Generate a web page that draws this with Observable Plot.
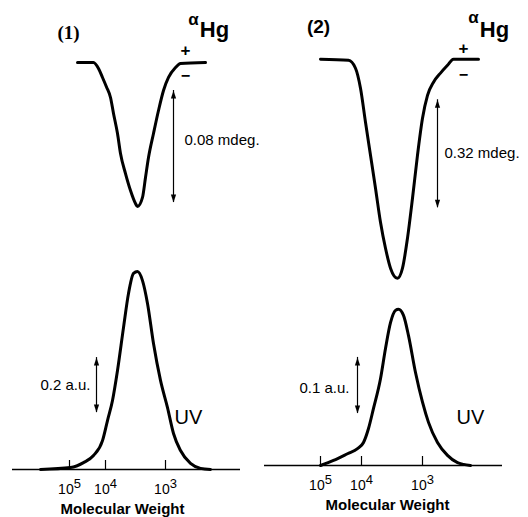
<!DOCTYPE html>
<html><head><meta charset="utf-8">
<script src="https://cdn.jsdelivr.net/npm/d3@7"></script>
<script src="https://cdn.jsdelivr.net/npm/@observablehq/plot@0.6"></script>
<style>
html,body{margin:0;padding:0;background:#fff;}
#chart{position:relative;width:528px;height:517px;overflow:hidden;font-family:"Liberation Sans",Arial,sans-serif;}
#chart > svg{position:absolute;}
</style></head><body><div id="chart"></div>
<script>
// ---- data (x = elution position, arbitrary units; rotation in mdeg; UV in a.u.) ----
const tickLabels = ["10^5", "10^4", "10^3"];
const p1TickPos = [2.85, 4.65, 7.65];
const p2TickPos = [2.8, 4.85, 7.9];

const p1Rotation = [[3.25,0],[4.05,0],[4.30,-0.0043],[4.50,-0.0107],[4.70,-0.0175],[4.90,-0.025],[5.05,-0.0364],[5.25,-0.0507],[5.40,-0.065],[5.65,-0.0793],[5.90,-0.0914],[6.15,-0.1007],[6.25,-0.1029],[6.50,-0.0964],[6.65,-0.0821],[6.80,-0.0679],[7.05,-0.0507],[7.30,-0.0343],[7.55,-0.02],[7.80,-0.0107],[8.15,-0.0036],[8.40,-0.0007],[9.65,0]];
const p1UV = [[1.4,0],[2.9,0.007],[3.55,0.025],[4.05,0.051],[4.5,0.105],[4.75,0.178],[5.0,0.251],[5.25,0.36],[5.55,0.516],[5.8,0.64],[6.05,0.713],[6.25,0.72],[6.5,0.687],[6.75,0.604],[7.05,0.458],[7.4,0.324],[7.75,0.225],[8.05,0.131],[8.4,0.069],[8.9,0.022],[9.4,0.004],[9.9,0]];

const p2Rotation = [[2.8,0],[4.2,-0.003],[4.55,-0.0267],[4.8,-0.0859],[5.05,-0.1867],[5.3,-0.2844],[5.55,-0.3822],[5.8,-0.483],[6.05,-0.56],[6.3,-0.619],[6.65,-0.649],[6.9,-0.619],[7.15,-0.53],[7.4,-0.412],[7.65,-0.284],[7.9,-0.175],[8.15,-0.107],[8.45,-0.068],[8.8,-0.041],[9.15,-0.018],[9.45,0],[10.7,0]];
const p2UV = [[2.8,0],[3.45,0.009],[4.15,0.021],[4.65,0.03],[4.95,0.041],[5.2,0.066],[5.45,0.102],[5.8,0.155],[6.05,0.209],[6.3,0.255],[6.55,0.277],[6.7,0.279],[6.95,0.268],[7.2,0.232],[7.55,0.166],[7.9,0.113],[8.2,0.077],[8.65,0.041],[9.15,0.018],[9.65,0.005],[9.95,0.002],[10.3,0]];

const p1RotBar = 0.08, p2RotBar = 0.32;   // mdeg
const p1UVBar = 0.2,  p2UVBar = 0.1;      // a.u.

// ---- helpers ----
const FONT = "Liberation Sans, Arial, sans-serif";
const arrowHead = {draw(c) { c.moveTo(0, 0); c.lineTo(-2.6, 8); c.lineTo(2.6, 8); c.closePath(); }};

function scaleBar(x, yLow, yHigh) {
  return [
    Plot.ruleX([x], {y1: yLow, y2: yHigh, strokeWidth: 1.2, stroke: "black"}),
    Plot.dot([0], {x: () => x, y: () => yHigh, symbol: arrowHead, fill: "black", stroke: "none"}),
    Plot.dot([0], {x: () => x, y: () => yLow, symbol: arrowHead, rotate: 180, fill: "black", stroke: "none"})
  ];
}

function place(svg, left, top) {
  svg.style.left = left + "px";
  svg.style.top = top + "px";
  document.getElementById("chart").appendChild(svg);
}

function superscriptTicks(svg) {
  svg.querySelectorAll('g[aria-label="x-axis tick label"] text').forEach(t => {
    const [base, exp] = t.textContent.split("^");
    t.textContent = "";
    t.setAttribute("font-size", "14");
    const ns = "http://www.w3.org/2000/svg";
    const a = document.createElementNS(ns, "tspan"); a.textContent = base;
    const b = document.createElementNS(ns, "tspan"); b.textContent = exp;
    b.setAttribute("dy", "-6"); b.setAttribute("font-size", "13");
    t.appendChild(a); t.appendChild(b);
  });
}

const common = {style: {background: "transparent", overflow: "visible", fontFamily: FONT, color: "black"}};

function topPlot(o) {
  return Plot.plot({
    ...common,
    width: 264, height: o.height,
    marginLeft: o.ml, marginRight: o.mr, marginTop: o.mt, marginBottom: o.mb,
    x: {domain: o.xDomain, axis: null},
    y: {domain: o.yDomain, axis: null},
    marks: [
      Plot.line(o.data, {x: d => d[0], y: d => d[1], curve: "monotone-x", strokeWidth: 3, stroke: "black", strokeLinejoin: "round"}),
      ...scaleBar(o.bar.x, o.bar.y - o.bar.size, o.bar.y),
      Plot.text([o.bar.label], {x: o.barText.x, y: o.barText.y, textAnchor: "start", fontSize: 15}),
      Plot.text([o.panel.label], {x: o.panel.x, y: o.panel.y, fontSize: 19, fontWeight: "bold", fontFamily: o.panel.font}),
      Plot.text(["α"], {x: o.alpha.x, y: o.alpha.y, fontSize: 17, fontWeight: "bold"}),
      Plot.text(["Hg"], {x: o.hg.x, y: o.hg.y, fontSize: 22, fontWeight: "bold"}),
      Plot.text(["+"], {x: o.plus.x, y: o.plus.y, fontSize: 17, fontWeight: "bold"}),
      Plot.text(["\u2212"], {x: o.minus.x, y: o.minus.y, fontSize: 16, fontWeight: "bold"})
    ]
  });
}

function uvPlot(o) {
  const svg = Plot.plot({
    ...common,
    width: 264, height: 277,
    marginLeft: o.ml, marginRight: o.mr, marginTop: o.mt, marginBottom: o.mb,
    x: {domain: o.xDomain},
    y: {domain: o.yDomain, axis: null},
    marks: [
      Plot.ruleY([0], {strokeWidth: 1.5, stroke: "black"}),
      Plot.tickX(o.ticks, {x: d => d, insetTop: o.frameH - 9, strokeWidth: 1.2, stroke: "black"}),
      Plot.axisX(o.ticks, {tickSize: 0, tickPadding: 15, tickFormat: d => tickLabels[o.ticks.indexOf(d)]}),
      Plot.line(o.data, {x: d => d[0], y: d => d[1], curve: "monotone-x", strokeWidth: 3, stroke: "black", strokeLinejoin: "round"}),
      ...scaleBar(o.bar.x, o.bar.y - o.bar.size, o.bar.y),
      Plot.text([o.bar.label], {x: o.barText.x, y: o.barText.y, textAnchor: "end", fontSize: 15}),
      Plot.text(["UV"], {x: o.uv.x, y: o.uv.y, fontSize: 20}),
      Plot.text(["Molecular Weight"], {x: o.mwX, frameAnchor: "bottom", dy: 44, fontSize: 15, fontWeight: "bold"})
    ]
  });
  superscriptTicks(svg);
  return svg;
}

// ---- panel (1) ----
place(topPlot({
  height: 240, ml: 12, mr: 24, mt: 20, mb: 10,
  xDomain: [0, 11.4], yDomain: [-0.12, 0.03], data: p1Rotation,
  bar: {x: 8.05, y: -0.02, size: p1RotBar, label: "0.08 mdeg."},
  barText: {x: 8.6, y: -0.0557},
  panel: {label: "(1)", x: 2.8, y: 0.0214, font: "Liberation Serif, serif"},
  alpha: {x: 9.05, y: 0.031}, hg: {x: 10.1, y: 0.0229},
  plus: {x: 8.65, y: 0.0086}, minus: {x: 8.65, y: -0.0093}
}), 0, 0);

place(uvPlot({
  ml: 12, mr: 24, mt: 9, mb: 48, frameH: 220,
  xDomain: [0, 11.4], yDomain: [0, 0.8], data: p1UV, ticks: p1TickPos,
  bar: {x: 4.2, y: 0.407, size: p1UVBar, label: "0.2 a.u."},
  barText: {x: 3.9, y: 0.305},
  uv: {x: 8.8, y: 0.189}, mwX: 5.5
}), 0, 240);

// ---- panel (2) ----
place(topPlot({
  height: 300, ml: 0, mr: 26, mt: 25, mb: 5,
  xDomain: [0, 11.9], yDomain: [-0.7, 0.1], data: p2Rotation,
  bar: {x: 8.65, y: -0.12, size: p2RotBar, label: "0.32 mdeg."},
  barText: {x: 9.0, y: -0.2785},
  panel: {label: "(2)", x: 2.7, y: 0.0948, font: FONT},
  alpha: {x: 10.45, y: 0.124}, hg: {x: 11.5, y: 0.0859},
  plus: {x: 9.95, y: 0.0326}, minus: {x: 9.95, y: -0.0474}
}), 264, 0);

place(uvPlot({
  ml: 0, mr: 26, mt: 57, mb: 52, frameH: 168,
  xDomain: [0, 11.9], yDomain: [0, 0.3], data: p2UV, ticks: p2TickPos,
  bar: {x: 4.65, y: 0.193, size: p2UVBar, label: "0.1 a.u."},
  barText: {x: 4.25, y: 0.1375},
  uv: {x: 10.3, y: 0.0857}, mwX: 6.15
}), 264, 240);
</script></body></html>
